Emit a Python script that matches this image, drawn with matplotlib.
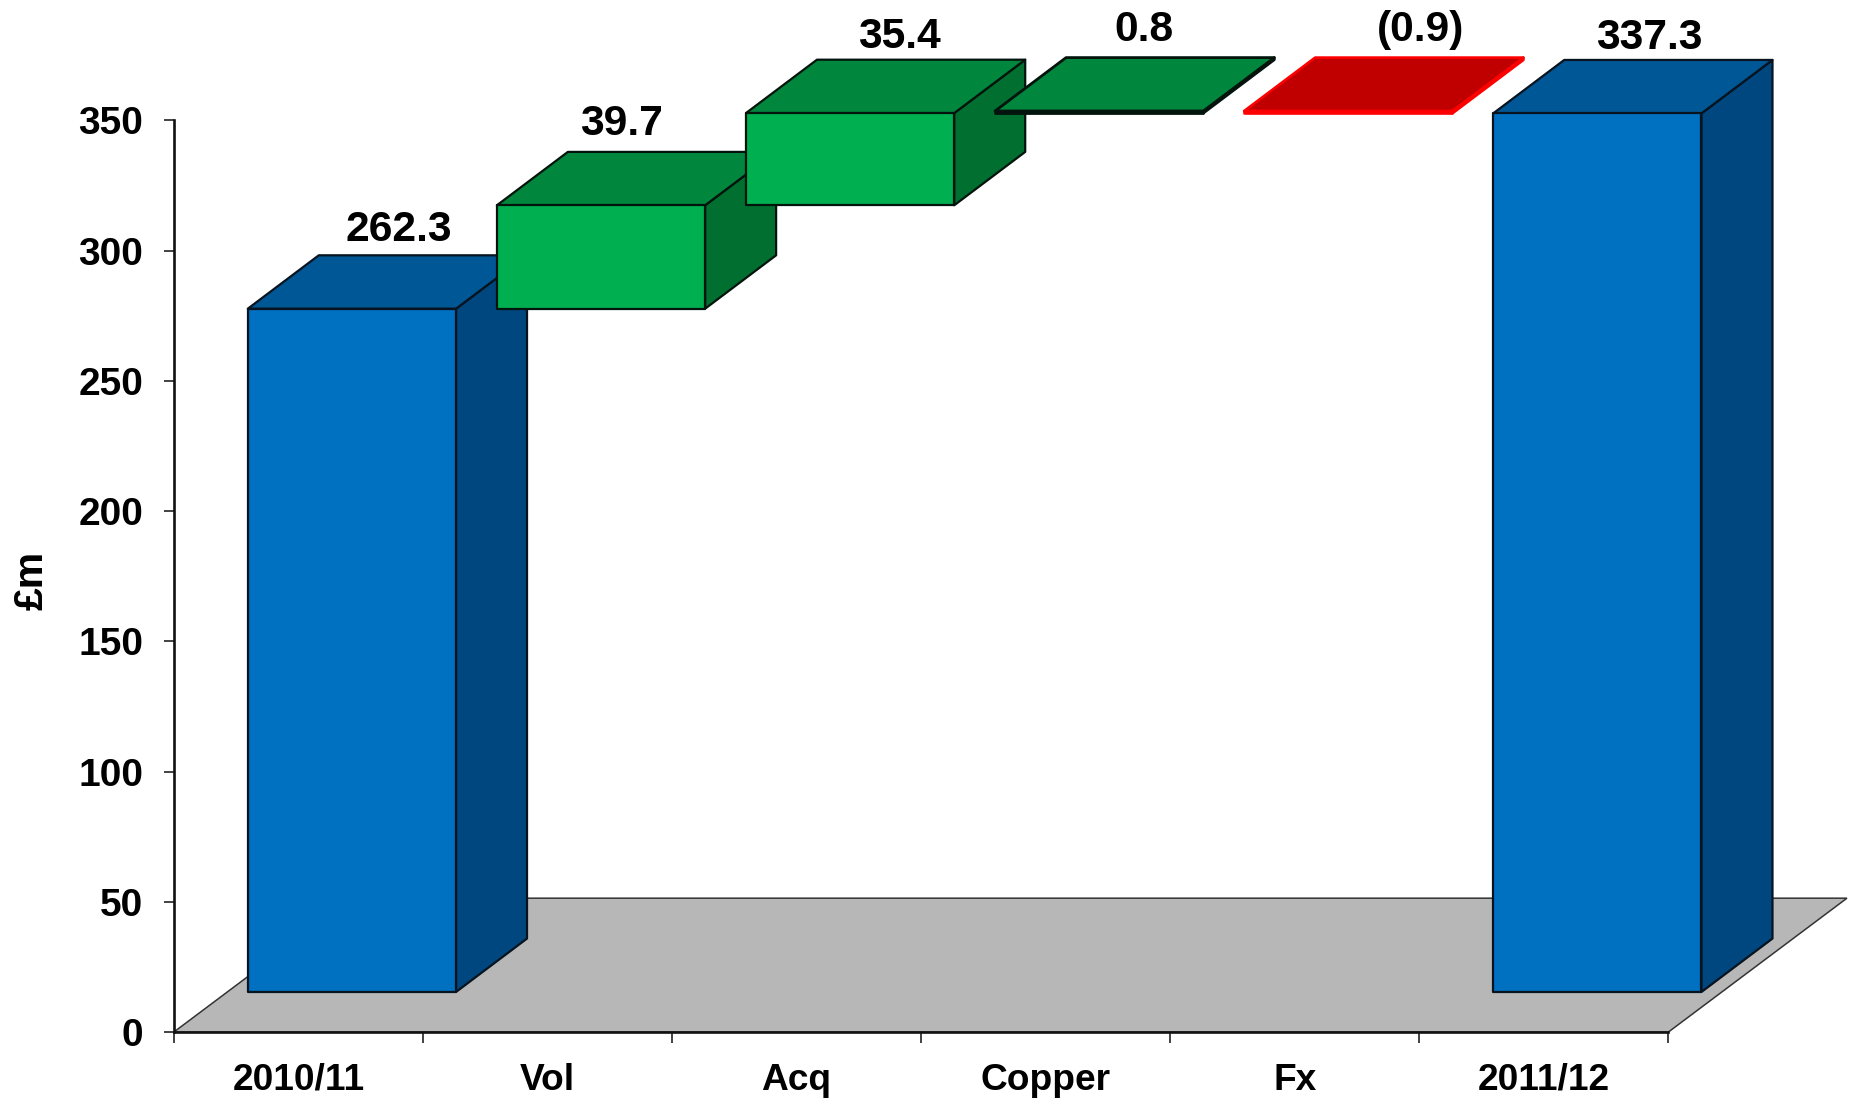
"""Revenue bridge drawn as a pseudo-3D waterfall."""

import matplotlib

matplotlib.use("Agg")
import matplotlib.pyplot as plt
import numpy as np
from matplotlib.patches import Polygon

plt.rcParams["font.family"] = ["Liberation Sans", "DejaVu Sans"]
plt.rcParams["font.weight"] = "bold"

CATEGORIES = ["2010/11", "Vol", "Acq", "Copper", "Fx", "2011/12"]
OPENING = [262.3]
MOVEMENTS = [39.7, 35.4, 0.8, -0.9]
CLOSING = [337.3]
VALUE_LABELS = ["262.3", "39.7", "35.4", "0.8", "(0.9)", "337.3"]
Y_TICKS = [0, 50, 100, 150, 200, 250, 300, 350]

# bar faces: front, top, side
BLUE = ("#0070C0", "#005796", "#00477F")
GREEN = ("#00B050", "#00863D", "#006F2F")
RED = ("#C00000", "#C00000", "#C00000")
FLOOR = "#B7B7B7"

# fake perspective, in data units
BAR_OFFSET = 0.297
BAR_WIDTH = 0.836
DEPTH_X = 0.285
DEPTH_Y = 20.5
BASE_Y = 15.4
FLOOR_DEPTH_X = 0.717
FLOOR_DEPTH_Y = 51.4

# label nudge from the middle of the top face, in points
LABEL_NUDGE = [(8.5, 18), (-11, 20), (9.6, 16), (6.5, 20), (26.7, 20), (12, 15.5)]


def draw_box(ax, left, low, high, colours, edge, lw=1.6, zorder=3):
    """Draw one bar as front, top and side polygons."""
    right = left + BAR_WIDTH
    front = [(left, low), (right, low), (right, high), (left, high)]
    top = [
        (left, high),
        (right, high),
        (right + DEPTH_X, high + DEPTH_Y),
        (left + DEPTH_X, high + DEPTH_Y),
    ]
    side = [
        (right, low),
        (right + DEPTH_X, low + DEPTH_Y),
        (right + DEPTH_X, high + DEPTH_Y),
        (right, high),
    ]
    for pts, colour in zip((side, top, front), (colours[2], colours[1], colours[0])):
        ax.add_patch(
            Polygon(pts, closed=True, facecolor=colour, edgecolor=edge, linewidth=lw,
                    joinstyle="round", clip_on=False, zorder=zorder)
        )


def main():
    fig = plt.figure(figsize=(18.54, 10.99), dpi=100)
    ax = fig.add_axes([147 / 1568, 1 - 872.8 / 929.4, (1411 - 147) / 1568, (872.8 - 101.8) / 929.4])
    ax.set_xlim(0, 6)
    ax.set_ylim(0, 350)

    for name in ("top", "right"):
        ax.spines[name].set_visible(False)
    for name in ("left", "bottom"):
        ax.spines[name].set_linewidth(1.9)
        ax.spines[name].set_color("#111111")
        ax.spines[name].set_zorder(2)

    ax.set_yticks(Y_TICKS)
    ax.set_yticklabels([str(v) for v in Y_TICKS], fontsize=28)
    ax.set_xticks(np.arange(0, 7))
    ax.set_xticklabels([])
    ax.tick_params(axis="y", length=7, width=1.2, color="#222222", pad=15)
    ax.tick_params(axis="x", length=8, width=1.2, color="#222222")
    for i, name in enumerate(CATEGORIES):
        ax.annotate(name, (i + 0.5, 0), xytext=(0, -34.6), textcoords="offset points",
                    ha="center", va="center", fontsize=26.7, annotation_clip=False)

    ax.add_patch(
        Polygon(
            [(0, 0), (6, 0), (6 + FLOOR_DEPTH_X, FLOOR_DEPTH_Y), (FLOOR_DEPTH_X, FLOOR_DEPTH_Y)],
            closed=True, facecolor=FLOOR, edgecolor="#333333", linewidth=1.1,
            clip_on=False, zorder=1,
        )
    )

    totals = np.cumsum(OPENING + MOVEMENTS)
    lows = [0.0] + [min(a, b) for a, b in zip(totals[:-1], totals[1:])] + [0.0]
    highs = [OPENING[0]] + [max(a, b) for a, b in zip(totals[:-1], totals[1:])] + [CLOSING[0]]

    for i, (low, high) in enumerate(zip(lows, highs)):
        left = i + BAR_OFFSET
        if i in (0, len(CATEGORIES) - 1):
            colours, edge, lw = BLUE, "#07141F", 1.6
        elif MOVEMENTS[i - 1] < 0:
            colours, edge, lw = RED, "#FF0000", 1.9
        else:
            colours, edge, lw = GREEN, "#03140C", 1.6
            if high - low < 2:
                lw = 2.0
        draw_box(ax, left, low + BASE_Y, high + BASE_Y, colours, edge, lw=lw, zorder=3 + i)

        nudge = LABEL_NUDGE[i]
        ax.annotate(
            VALUE_LABELS[i],
            (left + (BAR_WIDTH + DEPTH_X) / 2, high + BASE_Y + DEPTH_Y),
            xytext=nudge, textcoords="offset points",
            ha="center", va="center", fontsize=30.7, annotation_clip=False, zorder=20,
        )

    fig.text(27 / 1568, 1 - 491 / 929.4, "£m", rotation=90, ha="center", va="center", fontsize=29.5)

    fig.savefig("out.png", dpi=100)


if __name__ == "__main__":
    main()
